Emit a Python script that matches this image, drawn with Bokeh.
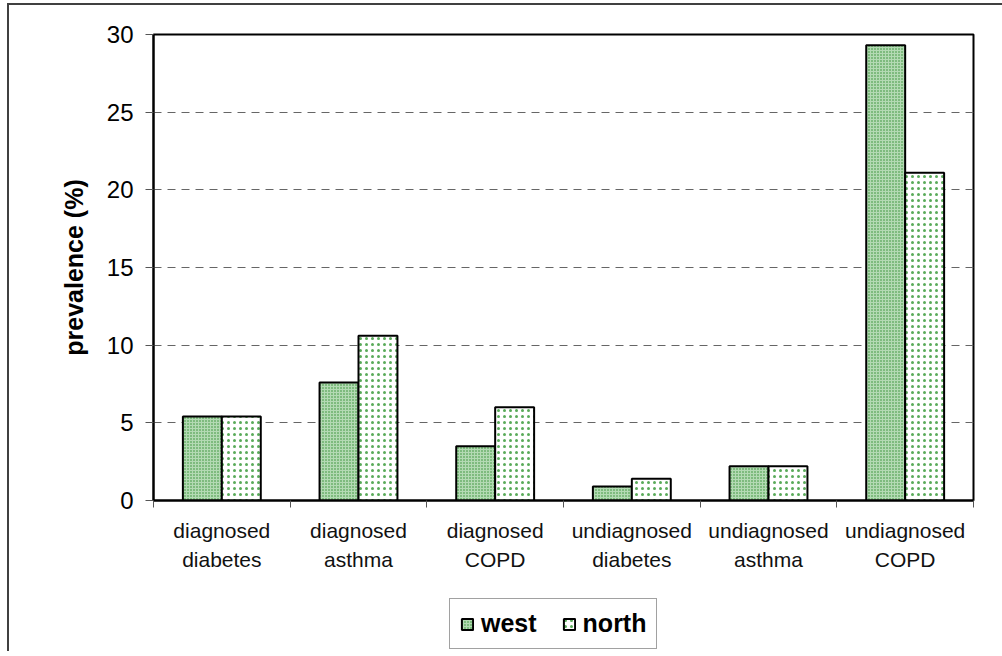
from bokeh.plotting import figure
from bokeh.layouts import column
from bokeh.models import Range1d, FixedTicker, Legend, LegendItem, ColumnDataSource
from bokeh.embed import file_html
from bokeh.resources import INLINE

# prevalence by condition and region (%)
categories = ["diagnosed\ndiabetes", "diagnosed\nasthma", "diagnosed\nCOPD",
              "undiagnosed\ndiabetes", "undiagnosed\nasthma", "undiagnosed\nCOPD"]
west = [5.4, 7.6, 3.5, 0.9, 2.2, 29.3]
north = [5.4, 10.6, 6.0, 1.4, 2.2, 21.1]
y_ticks = [0, 5, 10, 15, 20, 25, 30]

FONT = "Liberation Sans"
BAR_W = 0.285

WEST_STYLE = dict(fill_color="#b3dab3", line_color="black", line_width=2,
                  hatch_pattern="dot", hatch_color="#2e8b2e", hatch_scale=3, hatch_weight=1.3)
NORTH_STYLE = dict(fill_color="white", line_color="black", line_width=2,
                   hatch_pattern="dot", hatch_color="#5aaa5a", hatch_scale=6, hatch_weight=0.8)

centers = [i + 0.5 for i in range(len(categories))]
src = ColumnDataSource(dict(
    xw=[c - BAR_W / 2 for c in centers],
    xn=[c + BAR_W / 2 for c in centers],
    west=west, north=north,
))

p = figure(frame_width=820, frame_height=466, output_backend="svg", toolbar_location=None,
           x_range=Range1d(0, len(categories)), y_range=Range1d(0, 30),
           min_border_left=144, min_border_right=29, min_border_top=29, min_border_bottom=90)

p.background_fill_color = "white"
p.border_fill_color = "white"
p.outline_line_color = "black"
p.outline_line_width = 2

p.vbar(x="xw", top="west", width=BAR_W, bottom=0, source=src, **WEST_STYLE)
p.vbar(x="xn", top="north", width=BAR_W, bottom=0, source=src, **NORTH_STYLE)

# grid
p.xgrid.grid_line_color = None
p.ygrid.ticker = FixedTicker(ticks=y_ticks[1:-1])
p.ygrid.grid_line_color = "#666666"
p.ygrid.grid_line_dash = "8 6"
p.ygrid.grid_line_width = 1

# y axis
ya = p.yaxis[0]
ya.ticker = FixedTicker(ticks=y_ticks)
ya.axis_line_color = "black"
ya.axis_line_width = 2
ya.major_tick_out = 8
ya.major_tick_in = 0
ya.major_tick_line_color = "#555555"
ya.major_tick_line_width = 1
ya.minor_tick_line_color = None
ya.major_label_text_font = FONT
ya.major_label_text_font_size = "24px"
ya.major_label_text_color = "black"
ya.major_label_standoff = 12
ya.axis_label = "prevalence (%)"
ya.axis_label_text_font = FONT
ya.axis_label_text_font_style = "bold"
ya.axis_label_text_font_size = "25px"
ya.axis_label_text_color = "black"
ya.axis_label_standoff = 16

# x axis: labels at category centres, ticks at category boundaries
xa = p.xaxis[0]
xa.ticker = FixedTicker(ticks=centers, minor_ticks=list(range(len(categories) + 1)))
xa.major_label_overrides = {c: lab for c, lab in zip(centers, categories)}
xa.axis_line_color = "black"
xa.axis_line_width = 2
xa.major_tick_line_color = None
xa.minor_tick_out = 7
xa.minor_tick_in = 0
xa.minor_tick_line_color = "#555555"
xa.minor_tick_line_width = 1
xa.major_label_text_font = FONT
xa.major_label_text_font_size = "21px"
xa.major_label_text_color = "#111111"
xa.major_label_text_line_height = 1.3
xa.major_label_standoff = 11

# legend strip underneath the chart; hidden copies of the bars carry the swatches
leg = figure(width=993, height=61, output_backend="svg", toolbar_location=None,
             x_range=Range1d(0, 1), y_range=Range1d(0, 1),
             x_axis_type=None, y_axis_type=None,
             min_border_left=0, min_border_right=0, min_border_top=0, min_border_bottom=0)
leg.outline_line_color = None
leg.xgrid.visible = False
leg.ygrid.visible = False
lw = leg.vbar(x="xw", top="west", width=BAR_W, source=src, visible=False, **WEST_STYLE)
ln = leg.vbar(x="xn", top="north", width=BAR_W, source=src, visible=False, **NORTH_STYLE)

legend = Legend(items=[LegendItem(label="west", renderers=[lw]),
                       LegendItem(label="north", renderers=[ln])],
                orientation="horizontal", location=(296, 2))
legend.label_text_font = FONT
legend.label_text_font_style = "bold"
legend.label_text_font_size = "25px"
legend.label_text_color = "black"
legend.glyph_width = 14
legend.glyph_height = 14
legend.label_standoff = 7
legend.spacing = 25
legend.padding = 10
legend.margin = 0
legend.inactive_fill_alpha = 0
legend.border_line_color = "#444444"
legend.border_line_width = 1.5
legend.background_fill_color = "white"
legend.background_fill_alpha = 1
leg.add_layout(legend, "center")

page = column(p, leg, spacing=0)
page.styles = {"border-left": "2px solid #404040", "border-top": "2px solid #404040",
               "margin-left": "7px", "margin-top": "3px"}

open("out.html", "w").write(file_html(page, INLINE))
